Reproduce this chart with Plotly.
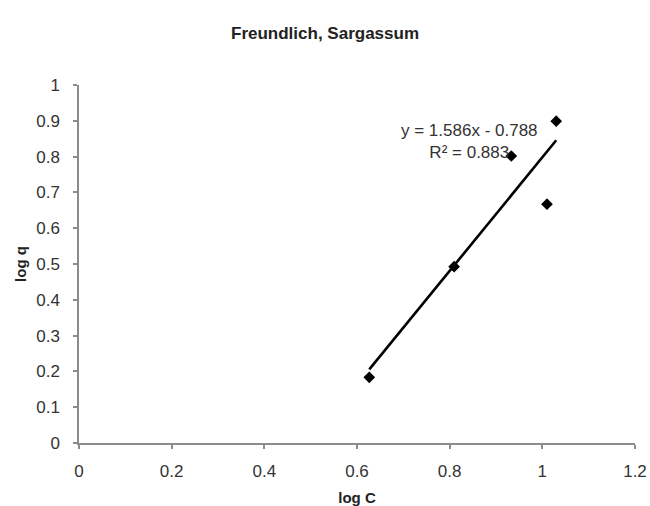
import plotly.graph_objects as go

# Freundlich isotherm data (log-transformed)
log_c = [0.6265, 0.8096, 0.933, 1.010, 1.030]
log_q = [0.1835, 0.4925, 0.8017, 0.667, 0.899]

# Linear trendline coefficients and fit quality
slope = 1.586
intercept = -0.788
r_squared = 0.883

x_ticks = [0, 0.2, 0.4, 0.6, 0.8, 1, 1.2]
y_ticks = [0, 0.1, 0.2, 0.3, 0.4, 0.5, 0.6, 0.7, 0.8, 0.9, 1]

x_fit = [min(log_c), max(log_c)]
y_fit = [slope * x + intercept for x in x_fit]

FONT = "Liberation Sans, Arial, sans-serif"
AXIS_GREY = "#8c8c8c"

fig = go.Figure()
fig.add_trace(go.Scatter(
    x=x_fit, y=y_fit, mode="lines",
    line=dict(color="black", width=2.6),
    showlegend=False, hoverinfo="skip",
))
fig.add_trace(go.Scatter(
    x=log_c, y=log_q, mode="markers",
    marker=dict(symbol="diamond", size=9, color="black"),
    showlegend=False,
))

fig.add_annotation(
    x=0.843, y=0.843, xref="x", yref="y",
    text=f"y = {slope}x - {abs(intercept)}<br>R² = {r_squared}",
    showarrow=False, align="center",
    font=dict(family=FONT, size=17, color="#333333"),
)

fig.update_layout(
    width=650, height=506,
    paper_bgcolor="white", plot_bgcolor="white",
    margin=dict(l=78.5, r=14.5, t=85, b=63, autoexpand=False),
    title=dict(
        text="<b>Freundlich, Sargassum</b>",
        x=0.5, xanchor="center", y=0.935, yanchor="middle",
        font=dict(family=FONT, size=17, color="#222222"),
    ),
    font=dict(family=FONT, color="#333333"),
)

fig.update_xaxes(
    range=[0, 1.2], tickvals=x_ticks,
    ticktext=[f"{v:g}" for v in x_ticks],
    automargin=False,
    showgrid=False, zeroline=False,
    showline=True, linecolor=AXIS_GREY, linewidth=1.5,
    ticks="outside", ticklen=4, tickcolor=AXIS_GREY, tickwidth=1.5,
    ticklabelstandoff=8,
    tickfont=dict(family=FONT, size=17, color="#333333"),
    title=dict(text="<b>log C</b>", font=dict(family=FONT, size=15, color="#222222"), standoff=12),
)
fig.update_yaxes(
    range=[0, 1], tickvals=y_ticks,
    ticktext=[f"{v:g}" for v in y_ticks],
    automargin=False,
    showgrid=False, zeroline=False,
    showline=True, linecolor=AXIS_GREY, linewidth=1.5,
    ticks="outside", ticklen=4, tickcolor=AXIS_GREY, tickwidth=1.5,
    ticklabelstandoff=10,
    tickfont=dict(family=FONT, size=17, color="#333333"),
    title=dict(text="<b>log q</b>", font=dict(family=FONT, size=15, color="#222222"), standoff=6),
)

fig.write_html("out.html")
